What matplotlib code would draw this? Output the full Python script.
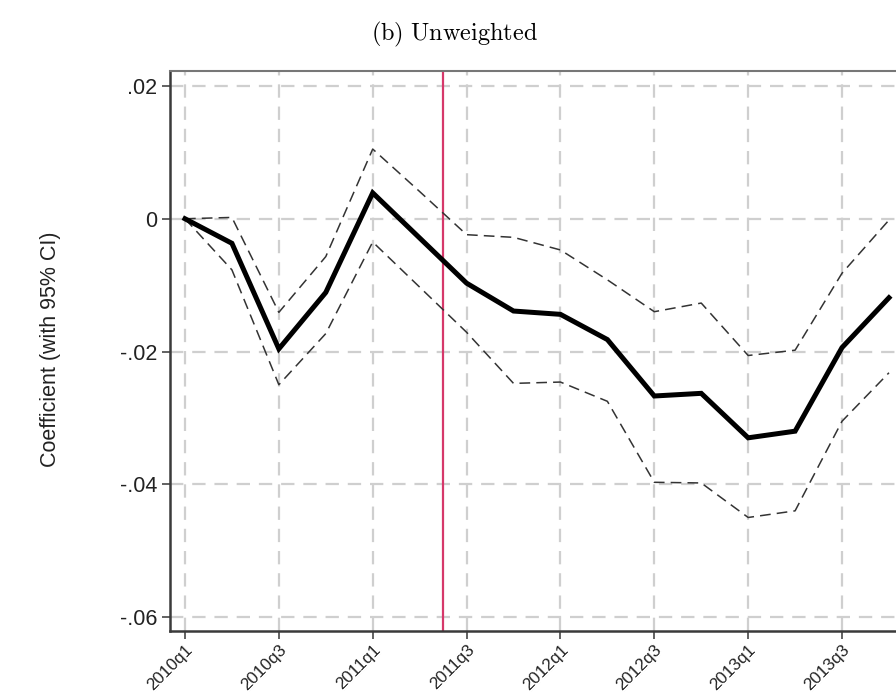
import matplotlib
matplotlib.use("Agg")
import matplotlib.pyplot as plt

# quarters 2010q1 .. 2013q4
quarters = ["2010q1", "2010q2", "2010q3", "2010q4",
            "2011q1", "2011q2", "2011q3", "2011q4",
            "2012q1", "2012q2", "2012q3", "2012q4",
            "2013q1", "2013q2", "2013q3", "2013q4"]
coef = [0.0, -0.0037, -0.0196, -0.0111, 0.0039, -0.0029, -0.0097, -0.0139,
        -0.0144, -0.0182, -0.0267, -0.0263, -0.0330, -0.0320, -0.0194, -0.0119]
ci_hi = [0.0, 0.0002, -0.0141, -0.0057, 0.0105, 0.0041, -0.0024, -0.0028,
         -0.0047, -0.0092, -0.0140, -0.0127, -0.0206, -0.0198, -0.0082, -0.0002]
ci_lo = [0.0, -0.0077, -0.0250, -0.0173, -0.0035, -0.0103, -0.0171, -0.0248,
         -0.0246, -0.0275, -0.0397, -0.0398, -0.0450, -0.0440, -0.0305, -0.0232]
event_x = 5.5  # between 2011q2 and 2011q3
ytick_vals = [0.02, 0.0, -0.02, -0.04, -0.06]
ytick_labels = [".02", "0", "-.02", "-.04", "-.06"]

x = list(range(len(quarters)))

fig = plt.figure(figsize=(8.96, 6.98), dpi=100)
ax = fig.add_axes([0.1897, 0.096, 1.0 - 0.1897, 0.8983 - 0.096])

grid_kw = dict(color="#cfcfcf", linewidth=1.6, linestyle=(0, (6, 4)), zorder=0)
for v in ytick_vals:
    ax.axhline(v, **grid_kw)
for i in range(0, len(quarters), 2):
    ax.axvline(i, **grid_kw)

ax.axvline(event_x, color="#d6386a", linewidth=1.6, zorder=1)

ax.plot(x, ci_hi, color="#333333", linewidth=1.1, linestyle=(0, (7, 4)), zorder=2)
ax.plot(x, ci_lo, color="#333333", linewidth=1.1, linestyle=(0, (7, 4)), zorder=2)
ax.plot(x, coef, color="black", linewidth=3.6, solid_joinstyle="miter", zorder=3)

ax.set_xlim(-0.32, 15.15)
ax.set_ylim(-0.0621, 0.02226)

ax.set_yticks(ytick_vals)
ax.set_yticklabels(ytick_labels, fontsize=15.5, family="Liberation Sans", color="#222222")
ax.set_xticks(x[::2])
ax.set_xticklabels(quarters[::2], rotation=45, ha="right", rotation_mode="anchor",
                   fontsize=12.3, family="Liberation Sans", color="#222222")
ax.tick_params(axis="both", direction="out", length=6, width=1.3, color="#555555")
ax.tick_params(axis="y", pad=3)
ax.tick_params(axis="x", pad=2)

for s in ["left", "bottom"]:
    ax.spines[s].set_color("#3a3a3a")
    ax.spines[s].set_linewidth(1.8)
ax.spines["top"].set_color("#777777")
ax.spines["top"].set_linewidth(1.5)
ax.spines["right"].set_visible(False)

fig.text(0.056, 0.5, "Coefficient (with 95% CI)", rotation=90, va="center", ha="center",
         fontsize=15.5, family="Liberation Sans", color="#222222")

plt.rcParams["mathtext.fontset"] = "cm"
fig.text(0.507, 0.951, r"$\mathrm{(b)\ Unweighted}$", ha="center", va="center", fontsize=17.5)

fig.savefig("out.png", dpi=100)
